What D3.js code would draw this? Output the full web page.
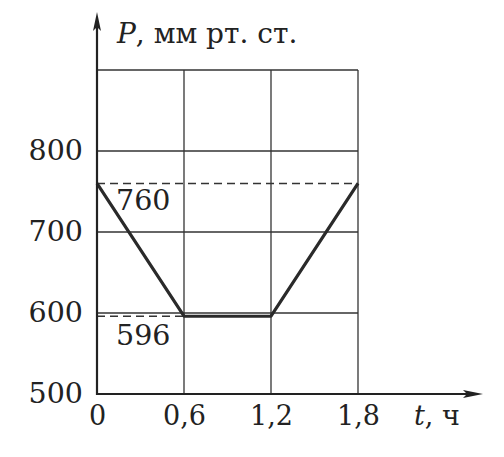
<!DOCTYPE html>
<html><head><meta charset="utf-8">
<script src="https://cdn.jsdelivr.net/npm/d3@7"></script>
<style>
html,body{margin:0;padding:0;background:#fff;}
svg text{font-family:"DejaVu Serif",serif;fill:#222;}
</style></head>
<body>
<svg id="c" width="504" height="457"></svg>
<script>
const times = [0, 0.6, 1.2, 1.8];
const pressures = [760, 596, 596, 760];
const xTicks = [0, 0.6, 1.2, 1.8];
const xTickLabels = ["0", "0,6", "1,2", "1,8"];
const yTicks = [500, 600, 700, 800];
const yGrid = [600, 700, 800, 900];
const refLevels = [760, 596];
const refEnds = [1.8, 0.6];

const svg = d3.select("#c");
const x = d3.scaleLinear().domain([0, 1.8]).range([97, 358]);
const y = d3.scaleLinear().domain([500, 900]).range([394, 70]);
const ink = "#222";

// grid
svg.append("g").selectAll("line").data(yGrid).join("line")
  .attr("x1", x(0)).attr("x2", x(1.8))
  .attr("y1", d => y(d)).attr("y2", d => y(d))
  .attr("stroke", "#333").attr("stroke-width", 1.3);
svg.append("g").selectAll("line").data(xTicks.slice(1)).join("line")
  .attr("x1", d => x(d)).attr("x2", d => x(d))
  .attr("y1", y(500)).attr("y2", y(900))
  .attr("stroke", "#333").attr("stroke-width", 1.3);

// reference dashed lines
svg.append("g").selectAll("line").data(refLevels).join("line")
  .attr("x1", x(0)).attr("x2", (d, i) => x(refEnds[i]))
  .attr("y1", d => y(d)).attr("y2", d => y(d))
  .attr("stroke", "#333").attr("stroke-width", 1.5)
  .attr("stroke-dasharray", "8,5");

// data line
svg.append("path").datum(times.map((t, i) => [t, pressures[i]]))
  .attr("d", d3.line().x(d => x(d[0])).y(d => y(d[1])))
  .attr("fill", "none").attr("stroke", "#2a2a2a").attr("stroke-width", 3.2)
  .attr("stroke-linejoin", "round");

// axes lines with arrows
svg.append("line").attr("x1", x(0)).attr("x2", x(0)).attr("y1", y(500) + 1).attr("y2", 26)
  .attr("stroke", ink).attr("stroke-width", 2.2);
svg.append("path").attr("d", `M${x(0)},12 L${x(0) - 4},31 L${x(0)},27 L${x(0) + 4},31 Z`).attr("fill", ink);
svg.append("line").attr("x1", x(0) - 1).attr("x2", 470).attr("y1", y(500)).attr("y2", y(500))
  .attr("stroke", ink).attr("stroke-width", 2.2);
svg.append("path").attr("d", `M483,${y(500)} L463,${y(500) - 4} L467,${y(500)} L463,${y(500) + 4} Z`).attr("fill", ink);

// tick labels via d3 axes
const yAxis = svg.append("g").attr("transform", `translate(${x(0) - 14},8)`)
  .call(d3.axisLeft(y).tickValues(yTicks).tickSize(0).tickPadding(0).tickFormat(d3.format("d")));
yAxis.select(".domain").remove();
yAxis.selectAll("text").attr("font-size", 28.5).attr("font-family", "DejaVu Serif").attr("fill", ink).attr("dy", null);

const xAxis = svg.append("g").attr("transform", `translate(0,${y(500)})`)
  .call(d3.axisBottom(x).tickValues(xTicks).tickSize(0).tickPadding(0).tickFormat((d, i) => xTickLabels[i]));
xAxis.select(".domain").remove();
xAxis.selectAll("text").attr("font-size", 27).attr("font-family", "DejaVu Serif").attr("fill", ink)
  .attr("dy", null).attr("y", 31);

// value labels
svg.append("text").attr("x", 116).attr("y", y(760) + 27).attr("font-size", 28.5).text("760");
svg.append("text").attr("x", 116).attr("y", y(596) + 29).attr("font-size", 28.5).text("596");

// axis titles
const t1 = svg.append("text").attr("x", 117).attr("y", 43).attr("font-size", 28);
t1.append("tspan").attr("font-style", "italic").text("P");
t1.append("tspan").text(", мм рт. ст.");
const t2 = svg.append("text").attr("x", 414).attr("y", 425).attr("font-size", 27);
t2.append("tspan").attr("font-style", "italic").text("t");
t2.append("tspan").text(", ч");
</script>
</body></html>
